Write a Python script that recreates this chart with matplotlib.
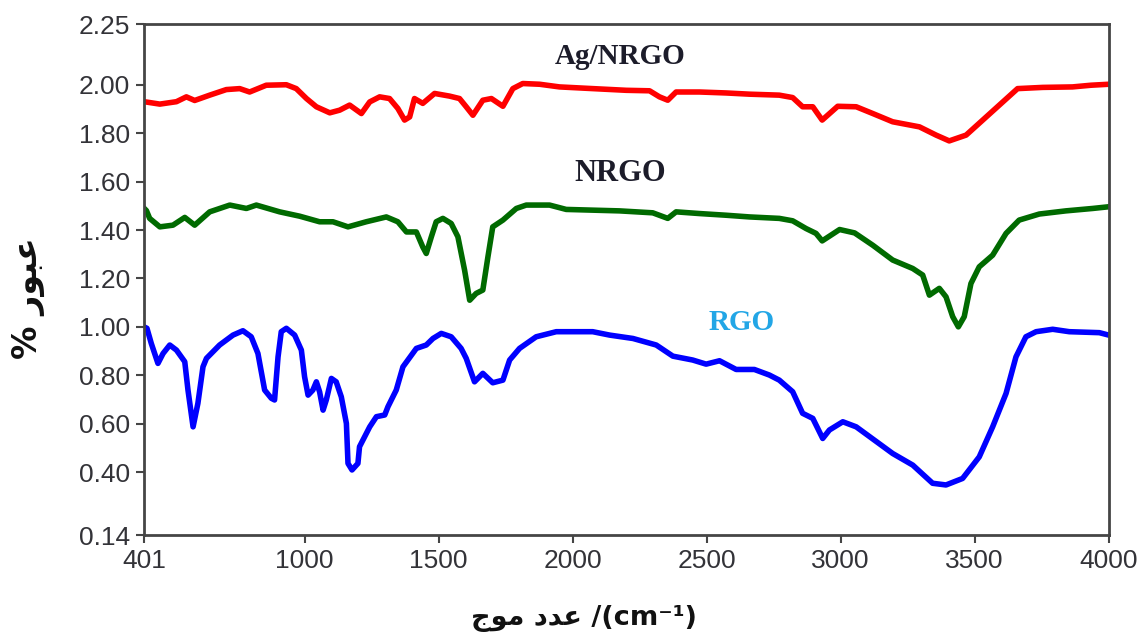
import matplotlib
matplotlib.use("Agg")
import matplotlib.pyplot as plt

# ---------------- data ----------------
ag_wn = [401, 460, 522, 559, 590, 646, 708, 758, 795, 857, 932, 969, 1007, 1044, 1094, 1131,
         1168, 1212, 1243, 1280, 1317, 1348, 1373, 1392, 1410, 1441, 1485, 1541, 1578, 1603,
         1628, 1665, 1697, 1740, 1777, 1814, 1877, 1951, 2075, 2200, 2287, 2324, 2355, 2386,
         2473, 2573, 2660, 2771, 2821, 2858, 2896, 2931, 2989, 3058, 3120, 3194, 3294, 3356,
         3405, 3468, 3530, 3592, 3660, 3754, 3865, 3934, 4000]
ag_t = [1.93, 1.92, 1.93, 1.95, 1.935, 1.957, 1.98, 1.984, 1.97, 1.998, 2.0, 1.984, 1.943,
        1.909, 1.884, 1.895, 1.916, 1.881, 1.929, 1.95, 1.943, 1.902, 1.854, 1.867, 1.943,
        1.923, 1.964, 1.953, 1.943, 1.909, 1.874, 1.936, 1.943, 1.911, 1.984, 2.005, 2.002,
        1.991, 1.984, 1.977, 1.975, 1.95, 1.936, 1.97, 1.97, 1.966, 1.961, 1.957, 1.947,
        1.909, 1.909, 1.854, 1.911, 1.909, 1.881, 1.847, 1.826, 1.792, 1.768, 1.792, 1.854,
        1.916, 1.984, 1.989, 1.991, 1.998, 2.002]

nrgo_wn = [401, 410, 422, 460, 509, 553, 590, 646, 721, 783, 820, 907, 982, 1056, 1106, 1162,
           1230, 1305, 1348, 1380, 1417, 1441, 1454, 1473, 1491, 1516, 1547, 1572, 1597, 1616,
           1640, 1665, 1684, 1702, 1740, 1790, 1827, 1914, 1976, 2075, 2175, 2299, 2355, 2386,
           2473, 2573, 2660, 2771, 2821, 2871, 2908, 2931, 2996, 3052, 3120, 3194, 3269, 3306,
           3331, 3368, 3393, 3418, 3439, 3461, 3486, 3517, 3567, 3617, 3666, 3741, 3840, 3940,
           4000]
nrgo_t = [1.49, 1.48, 1.448, 1.413, 1.42, 1.452, 1.42, 1.475, 1.503, 1.489, 1.503, 1.475,
          1.457, 1.434, 1.434, 1.413, 1.434, 1.454, 1.434, 1.392, 1.392, 1.33, 1.303, 1.372,
          1.434, 1.448, 1.427, 1.372, 1.234, 1.11, 1.138, 1.152, 1.289, 1.413, 1.441, 1.489,
          1.503, 1.503, 1.485, 1.482, 1.479, 1.471, 1.448, 1.475, 1.468, 1.461, 1.454, 1.448,
          1.438, 1.406, 1.386, 1.355, 1.402, 1.388, 1.337, 1.276, 1.241, 1.214, 1.131, 1.159,
          1.124, 1.042, 1.0, 1.042, 1.179, 1.248, 1.296, 1.386, 1.441, 1.466, 1.479, 1.489,
          1.496]

rgo_wn = [401, 412, 428, 453, 472, 497, 522, 553, 565, 584, 602, 621, 634, 683, 733, 770,
          801, 826, 851, 876, 888, 901, 913, 932, 963, 988, 1000, 1013, 1031, 1044, 1056,
          1069, 1081, 1100, 1118, 1137, 1156, 1162, 1177, 1199, 1205, 1243, 1268, 1299, 1311,
          1342, 1367, 1417, 1454, 1479, 1510, 1547, 1584, 1603, 1634, 1665, 1702, 1740, 1765,
          1802, 1864, 1939, 2075, 2138, 2225, 2312, 2374, 2448, 2498, 2548, 2610, 2678, 2734,
          2771, 2821, 2858, 2896, 2933, 2958, 3008, 3058, 3194, 3269, 3343, 3393, 3455, 3517,
          3567, 3617, 3654, 3691, 3729, 3791, 3853, 3965, 4000]
rgo_t = [1.0, 0.994, 0.932, 0.849, 0.89, 0.925, 0.904, 0.856, 0.739, 0.587, 0.684, 0.835,
         0.87, 0.925, 0.966, 0.984, 0.959, 0.89, 0.739, 0.705, 0.698, 0.876, 0.98, 0.994,
         0.966, 0.904, 0.794, 0.718, 0.739, 0.773, 0.732, 0.656, 0.698, 0.787, 0.773, 0.711,
         0.601, 0.436, 0.409, 0.436, 0.505, 0.587, 0.629, 0.636, 0.67, 0.739, 0.835, 0.911,
         0.925, 0.952, 0.973, 0.959, 0.911, 0.87, 0.773, 0.808, 0.769, 0.78, 0.863, 0.911,
         0.959, 0.98, 0.98, 0.966, 0.952, 0.925, 0.879, 0.863, 0.846, 0.86, 0.824, 0.824,
         0.801, 0.78, 0.732, 0.643, 0.622, 0.539, 0.574, 0.608, 0.587, 0.477, 0.429, 0.354,
         0.347, 0.374, 0.463, 0.587, 0.725, 0.876, 0.959, 0.98, 0.99, 0.98, 0.976, 0.966]

x_ticks = [401, 1000, 1500, 2000, 2500, 3000, 3500, 4000]
y_ticks = [0.14, 0.40, 0.60, 0.80, 1.00, 1.20, 1.40, 1.60, 1.80, 2.00, 2.25]
series_labels = ["Ag/NRGO", "NRGO", "RGO"]

# Arabic text in presentation forms, visual (left-to-right) order
y_label = "% \uFEAD\uFEEE\uFE92\uFECB"                       # عبور %
x_label = "\uFE9D\uFEEE\uFEE3 \uFEA9\uFEAA\uFECB /(cm\u207B\u00B9)"  # عدد موج /(cm-1)

# ---------------- figure ----------------
fig = plt.figure(figsize=(11.43, 6.37), dpi=100)
ax = fig.add_axes([0.126, 0.160, 0.844, 0.802])

ax.plot(ag_wn, ag_t, color="#ff0000", lw=4.0, solid_joinstyle="round")
ax.plot(nrgo_wn, nrgo_t, color="#006a00", lw=4.0, solid_joinstyle="round")
ax.plot(rgo_wn, rgo_t, color="#0000ff", lw=4.0, solid_joinstyle="round")

ax.set_xlim(401, 4000)
ax.set_ylim(0.14, 2.25)
ax.set_xticks(x_ticks)
ax.set_xticklabels([str(v) for v in x_ticks])
ax.set_yticks(y_ticks)
ax.set_yticklabels(["%.2f" % v for v in y_ticks])

spine_c = "#454545"
for s in ax.spines.values():
    s.set_color(spine_c)
    s.set_linewidth(2.0)
ax.tick_params(axis="both", direction="out", length=6, width=1.5, color=spine_c,
               labelsize=19, labelcolor="#333338", pad=4)
for lab in ax.get_xticklabels() + ax.get_yticklabels():
    lab.set_family("Liberation Sans")

ax.text(2179, 2.118, series_labels[0], ha="center", va="center", fontsize=21,
        fontweight="bold", family="Liberation Serif", color="#1c1c2a")
ax.text(2176, 1.635, series_labels[1], ha="center", va="center", fontsize=22,
        fontweight="bold", family="Liberation Serif", color="#1c1c2a")
ax.text(2630, 1.02, series_labels[2], ha="center", va="center", fontsize=21,
        fontweight="bold", family="Liberation Serif", color="#22a6e6")

fig.text(584 / 1143, 1 - 618 / 637, x_label, ha="center", va="center", fontsize=19.5,
         fontweight="bold", family=["DejaVu Sans"], color="#111111")
fig.text(28 / 1143, 1 - 298 / 637, y_label, ha="center", va="center", fontsize=24,
         fontweight="bold", rotation=90, family=["DejaVu Sans"], color="#111111")

fig.savefig("out.png", dpi=100)
